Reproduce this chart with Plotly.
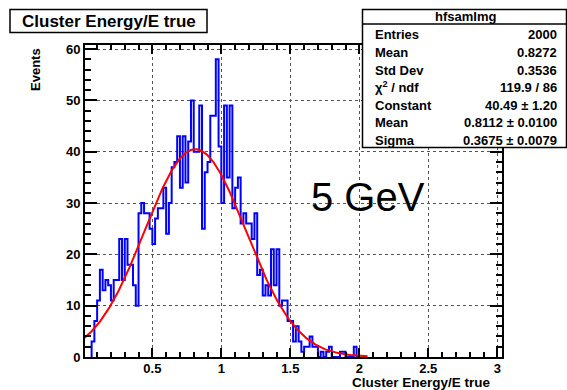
import numpy as np
import plotly.graph_objects as go

# ---------------- data ----------------
bin_width = 0.02
first_bin_low = 0.06
counts = [3, 7, 11, 17, 13, 15, 14, 11,            # 0.06 - 0.20
          15, 15, 23, 15, 23, 18, 18, 14, 10,      # 0.22 - 0.38
          28, 30, 28, 28, 25, 22, 27, 29, 29, 33,  # 0.40 - 0.58
          24, 30, 37, 38, 43, 33, 43, 34, 42, 50,  # 0.60 - 0.78
          40, 40, 49, 25, 36, 38, 47, 47, 58, 41,  # 0.80 - 0.98
          30, 49, 35, 49, 29, 33, 35, 26, 28, 26,  # 1.00 - 1.18
          26, 23, 28, 16, 17, 12, 14, 12, 21, 14,  # 1.20 - 1.38
          21, 10, 11, 11, 7, 7, 3, 6, 3, 1,        # 1.40 - 1.58
          2, 2, 4, 2, 2, 0, 1, 0, 1, 2,            # 1.60 - 1.78
          0, 0, 0, 1, 1, 0, 0, 0, 2, 0]            # 1.80 - 1.98

fit_constant = 40.49
fit_mean = 0.8112
fit_sigma = 0.3675
fit_range = (0.0, 2.06)

stats_title = "hfsamImg"
stats_labels = ["Entries", "Mean", "Std Dev", "χ<sup>2</sup> / ndf", "Constant", "Mean", "Sigma"]
stats_values = ["2000", "0.8272", "0.3536", "119.9 / 86", "40.49 ± 1.20", "0.8112 ± 0.0100", "0.3675 ± 0.0079"]

# ---------------- geometry ----------------
W, H = 567, 390
L, R, T, B = 85, 65, 45, 33
PW, PH = W - L - R, H - T - B
FONT = "Liberation Sans, Arial, Helvetica, sans-serif"


def px(x):
    return (x - L) / PW


def py(y):
    return (H - B - y) / PH


# step outline of histogram
edges = [first_bin_low + i * bin_width for i in range(len(counts) + 1)]
xs = [edges[0]] + edges[:-1] + [edges[-1]]
ys = [0] + list(counts) + [0]

fig = go.Figure()
fig.add_trace(go.Scatter(x=xs, y=ys, mode="lines", line=dict(color="#0000ff", width=2, shape="hv"),
                         hoverinfo="skip", showlegend=False))

xf = np.linspace(fit_range[0], fit_range[1], 400)
yf = fit_constant * np.exp(-0.5 * ((xf - fit_mean) / fit_sigma) ** 2)
fig.add_trace(go.Scatter(x=xf, y=yf, mode="lines", line=dict(color="#ff0000", width=2),
                         hoverinfo="skip", showlegend=False))

axis_common = dict(showline=True, linecolor="black", linewidth=2, mirror="allticks",
                   ticks="inside", tickcolor="black", tickwidth=1.5,
                   showgrid=True, gridcolor="#555555", gridwidth=1, griddash="dot",
                   zeroline=False, tickfont=dict(family=FONT, size=13, color="black", weight="bold"))

fig.update_xaxes(range=[0.012, 3.034], tickmode="linear", tick0=0, dtick=0.5, ticklen=9,
                 ticklabelstandoff=-2,
                 minor=dict(dtick=0.1, tick0=0, ticks="inside", ticklen=5, tickcolor="black", tickwidth=1.5, showgrid=False),
                 **axis_common)
fig.update_yaxes(range=[0, 60.8], tickmode="linear", tick0=0, dtick=10, ticklen=12,
                 minor=dict(dtick=2, tick0=0, ticks="inside", ticklen=6, tickcolor="black", tickwidth=1.5, showgrid=False),
                 **axis_common)

shapes = []
annotations = []

# title box
shapes.append(dict(type="rect", xref="paper", yref="paper", x0=px(10), x1=px(207), y0=py(9.5), y1=py(32.5),
                   line=dict(color="black", width=1.5), fillcolor="white", layer="above"))
annotations.append(dict(text="Cluster Energy/E true", xref="paper", yref="paper", x=px(108.5), y=py(21),
                        showarrow=False, xanchor="center", yanchor="middle",
                        font=dict(family=FONT, size=17, color="black", weight="bold")))

# stats box
shapes.append(dict(type="rect", xref="paper", yref="paper", x0=px(362.5), x1=px(566.5), y0=py(9.5), y1=py(147.5),
                   line=dict(color="black", width=1.5), fillcolor="white", layer="above"))
shapes.append(dict(type="line", xref="paper", yref="paper", x0=px(362.5), x1=px(566.5), y0=py(24), y1=py(24),
                   line=dict(color="black", width=1.5), layer="above"))
annotations.append(dict(text=stats_title, xref="paper", yref="paper", x=px(465), y=py(16),
                        showarrow=False, xanchor="center", yanchor="middle",
                        font=dict(family=FONT, size=13, color="black", weight="bold")))
for i, (lab, val) in enumerate(zip(stats_labels, stats_values)):
    yy = 35 + 17.5 * i
    annotations.append(dict(text=lab, xref="paper", yref="paper", x=px(373), y=py(yy),
                            showarrow=False, xanchor="left", yanchor="middle",
                            font=dict(family=FONT, size=13, color="black", weight="bold")))
    annotations.append(dict(text=val, xref="paper", yref="paper", x=px(559), y=py(yy),
                            showarrow=False, xanchor="right", yanchor="middle",
                            font=dict(family=FONT, size=13, color="black", weight="bold")))

# 5 GeV label
annotations.append(dict(text="5 GeV", xref="paper", yref="paper", x=px(368), y=py(197),
                        showarrow=False, xanchor="center", yanchor="middle",
                        font=dict(family=FONT, size=40, color="black")))

# axis titles
annotations.append(dict(text="Events", xref="paper", yref="paper", x=px(35), y=py(70),
                        showarrow=False, xanchor="center", yanchor="middle", textangle=-90,
                        font=dict(family=FONT, size=13, color="black", weight="bold")))
annotations.append(dict(text="Cluster Energy/E true", xref="paper", yref="paper", x=px(493), y=py(382.5),
                        showarrow=False, xanchor="right", yanchor="middle",
                        font=dict(family=FONT, size=13.5, color="black", weight="bold")))

fig.update_layout(width=W, height=H, margin=dict(l=L, r=R, t=T, b=B, autoexpand=False),
                  paper_bgcolor="white", plot_bgcolor="white",
                  shapes=shapes, annotations=annotations, showlegend=False)

fig.write_html("out.html")
